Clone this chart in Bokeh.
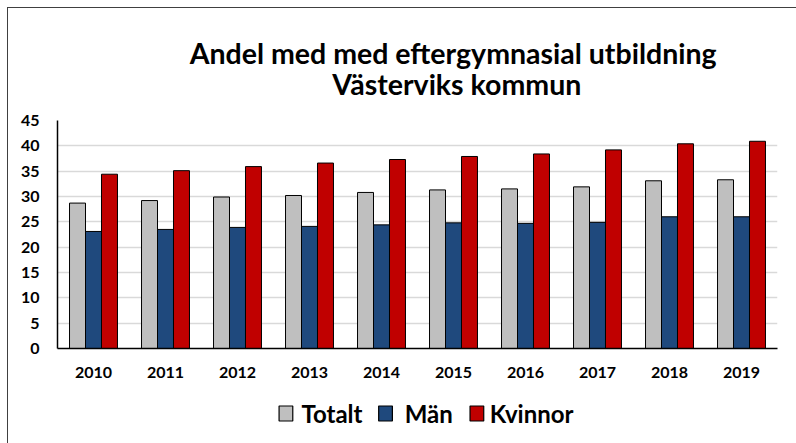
from bokeh.plotting import figure
from bokeh.models import ColumnDataSource, FactorRange
from bokeh.layouts import column
from bokeh.transform import dodge
from bokeh.core.properties import value
from bokeh.embed import file_html
from bokeh.resources import INLINE

years = ["2010", "2011", "2012", "2013", "2014", "2015", "2016", "2017", "2018", "2019"]
totalt = [28.7, 29.2, 29.9, 30.2, 30.8, 31.3, 31.5, 31.9, 33.1, 33.3]
man = [23.1, 23.5, 23.9, 24.1, 24.4, 24.8, 24.7, 24.9, 26.0, 26.0]
kvinnor = [34.4, 35.1, 35.9, 36.6, 37.3, 37.9, 38.4, 39.2, 40.4, 40.9]
y_ticks = [0, 5, 10, 15, 20, 25, 30, 35, 40, 45]
series = ["Totalt", "Män", "Kvinnor"]
colors = ["#bfbfbf", "#1f497d", "#c00000"]
title_lines = ["Andel med med eftergymnasial utbildning", "Västerviks kommun"]

FONT = "Lato"

# title strip
tf = figure(width=788, height=100, x_range=(0, 788), y_range=(0, 100),
            x_axis_location=None, y_axis_location=None,
            output_backend="svg", toolbar_location=None,
            min_border=0, min_border_left=0, min_border_right=0,
            min_border_top=0, min_border_bottom=0, outline_line_color=None)
tf.grid.visible = False
tf.text(x=[433, 437], y=[56, 25], text=title_lines,
        text_font=value(FONT), text_font_style="bold", text_font_size="28.5px",
        text_align="center", text_baseline="alphabetic", text_color="black")

# main chart
src = ColumnDataSource(dict(years=years, totalt=totalt, man=man, kvinnor=kvinnor))
p = figure(x_range=FactorRange(*years), y_range=(0, 45), width=788, height=277,
           output_backend="svg", toolbar_location=None,
           min_border_left=49, min_border_right=19, min_border_top=12, min_border_bottom=37)
p.outline_line_color = None
p.x_range.range_padding = 0

bw = 0.222
for col, off, c in zip(["totalt", "man", "kvinnor"], [-bw, 0, bw], colors):
    p.vbar(x=dodge("years", off, range=p.x_range), top=col, width=bw, source=src,
           fill_color=c, line_color="black", line_width=1)

p.yaxis.ticker = y_ticks
p.xgrid.grid_line_color = None
p.ygrid.grid_line_color = "#d9d9d9"
p.ygrid.grid_line_width = 1.5

for ax in (p.xaxis[0], p.yaxis[0]):
    ax.axis_line_color = "black"
    ax.axis_line_width = 1.5
    ax.major_tick_line_color = None
    ax.minor_tick_line_color = None
    ax.major_label_text_font = FONT
    ax.major_label_text_font_style = "bold"
    ax.major_label_text_font_size = "16px"
    ax.major_label_text_color = "#000000"
p.xaxis.major_label_standoff = 12
p.yaxis.major_label_standoff = 12

# legend strip
leg = figure(width=788, height=58, x_range=(0, 788), y_range=(0, 58),
             x_axis_location=None, y_axis_location=None,
             output_backend="svg", toolbar_location=None,
             min_border=0, min_border_left=0, min_border_right=0,
             min_border_top=0, min_border_bottom=0, outline_line_color=None)
leg.grid.visible = False
box_x = [250, 359, 459]
text_x = [267, 380, 473]
leg.rect(x=box_x, y=[30, 30, 30], width=15, height=15,
         fill_color=colors, line_color="black", line_width=1.2)
leg.text(x=text_x, y=[30, 30, 30], text=series,
         text_font=value(FONT), text_font_style="bold", text_font_size="24px",
         text_baseline="middle", text_align="left", text_color="black")

layout = column(tf, p, leg, spacing=0)
layout.styles = {"border-left": "1px solid #404040", "border-top": "1px solid #404040",
                 "margin-left": "7px", "margin-top": "7px"}

open("out.html", "w").write(file_html(layout, INLINE))
